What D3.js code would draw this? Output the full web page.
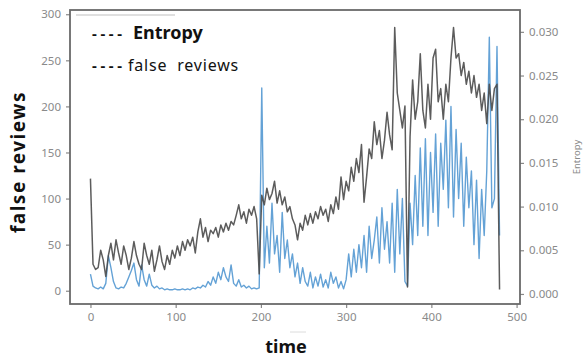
<!DOCTYPE html>
<html>
<head>
<meta charset="utf-8">
<script src="https://cdn.jsdelivr.net/npm/d3@7"></script>
<style>
  body { margin: 0; background: #fff; }
  svg { display: block; }
</style>
</head>
<body>
<div id="chart"></div>
<script>
// time axis (one reading every 3 steps)
const time = [
  0, 3, 6, 9, 12, 15, 18, 21, 24, 27,
  30, 33, 36, 39, 42, 45, 48, 51, 54, 57,
  60, 63, 66, 69, 72, 75, 78, 81, 84, 87,
  90, 93, 96, 99, 102, 105, 108, 111, 114, 117,
  120, 123, 126, 129, 132, 135, 138, 141, 144, 147,
  150, 153, 156, 159, 162, 165, 168, 171, 174, 177,
  180, 183, 186, 189, 192, 195, 198, 201, 204, 207,
  210, 213, 216, 219, 222, 225, 228, 231, 234, 237,
  240, 243, 246, 249, 252, 255, 258, 261, 264, 267,
  270, 273, 276, 279, 282, 285, 288, 291, 294, 297,
  300, 303, 306, 309, 312, 315, 318, 321, 324, 327,
  330, 333, 336, 339, 342, 345, 348, 351, 354, 357,
  360, 363, 366, 369, 372, 375, 378, 381, 384, 387,
  390, 393, 396, 399, 402, 405, 408, 411, 414, 417,
  420, 423, 426, 429, 432, 435, 438, 441, 444, 447,
  450, 453, 456, 459, 462, 465, 468, 471, 474, 477,
  480
];

// right axis
const entropy = [
  0.0132, 0.0034, 0.0028, 0.0030, 0.0050, 0.0039, 0.0020, 0.0044, 0.0058, 0.0039,
  0.0062, 0.0047, 0.0034, 0.0055, 0.0044, 0.0028, 0.0041, 0.0060, 0.0044, 0.0034,
  0.0028, 0.0058, 0.0044, 0.0034, 0.0050, 0.0026, 0.0039, 0.0055, 0.0037, 0.0028,
  0.0044, 0.0034, 0.0050, 0.0041, 0.0055, 0.0044, 0.0060, 0.0050, 0.0062, 0.0055,
  0.0065, 0.0047, 0.0071, 0.0086, 0.0065, 0.0076, 0.0060, 0.0073, 0.0069, 0.0076,
  0.0065, 0.0079, 0.0071, 0.0081, 0.0073, 0.0083, 0.0079, 0.0090, 0.0102, 0.0086,
  0.0094, 0.0081, 0.0097, 0.0090, 0.0100, 0.0086, 0.0023, 0.0113, 0.0102, 0.0121,
  0.0108, 0.0115, 0.0129, 0.0104, 0.0118, 0.0102, 0.0111, 0.0094, 0.0100, 0.0086,
  0.0079, 0.0062, 0.0081, 0.0073, 0.0090, 0.0079, 0.0092, 0.0081, 0.0094, 0.0086,
  0.0100, 0.0090, 0.0097, 0.0083, 0.0102, 0.0092, 0.0111, 0.0097, 0.0134, 0.0108,
  0.0129, 0.0118, 0.0145, 0.0129, 0.0155, 0.0139, 0.0171, 0.0105, 0.0134, 0.0166,
  0.0155, 0.0197, 0.0171, 0.0187, 0.0155, 0.0176, 0.0208, 0.0182, 0.0165, 0.0305,
  0.0230, 0.0210, 0.0190, 0.0215, 0.0008, 0.0180, 0.0245, 0.0200, 0.0220, 0.0275,
  0.0210, 0.0190, 0.0240, 0.0200, 0.0270, 0.0280, 0.0220, 0.0235, 0.0200, 0.0240,
  0.0220, 0.0270, 0.0305, 0.0270, 0.0275, 0.0250, 0.0265, 0.0240, 0.0255, 0.0230,
  0.0250, 0.0225, 0.0240, 0.0210, 0.0230, 0.0195, 0.0240, 0.0210, 0.0235, 0.0240,
  0.0005
];

// left axis
const falseReviews = [
  18, 5, 3, 2, 4, 2, 8, 38, 25, 10,
  3, 2, 4, 3, 8, 15, 22, 30, 12, 5,
  28, 12, 5, 18, 6, 3, 5, 2, 3, 1,
  2, 1, 1, 2, 1, 1, 2, 1, 2, 1,
  3, 2, 4, 3, 6, 4, 10, 6, 15, 8,
  20, 12, 25, 15, 10, 28, 8, 5, 12, 4,
  6, 3, 5, 2, 3, 2, 3, 220, 25, 70,
  30, 95, 40, 60, 20, 85, 35, 55, 25, 40,
  15, 30, 8, 25, 10, 5, 20, 3, 15, 5,
  18, 4, 12, 3, 20, 8, 15, 3, 10, 2,
  12, 40, 15, 45, 20, 50, 25, 60, 20, 70,
  35, 55, 80, 30, 90, 45, 75, 30, 95, 20,
  110, 40, 100, 10, 5, 95, 50, 125, 60, 155,
  70, 165, 60, 150, 85, 170, 70, 160, 110, 185,
  90, 200, 80, 175, 100, 160, 70, 145, 90, 130,
  50, 120, 35, 110, 60, 130, 275, 90, 100, 265,
  60
];

const xTicks = [0, 100, 200, 300, 400, 500];
const leftTicks = [0, 50, 100, 150, 200, 250, 300];
const rightTicks = [0, 0.005, 0.010, 0.015, 0.020, 0.025, 0.030];

const width = 583;
const height = 357;
const box = {left: 70, right: 520, top: 10, bottom: 304};
const font = "'Noto Sans', 'Open Sans', sans-serif";

const svg = d3.select('#chart')
  .append('svg')
    .attr('width', width)
    .attr('height', height);

const xScale = d3.scaleLinear()
  .domain([-24, 504])
  .range([box.left, box.right]);

const yLeft = d3.scaleLinear()
  .domain([-14.4, 304.6])
  .range([box.bottom, box.top]);

const yRight = d3.scaleLinear()
  .domain([-0.00115, 0.0325])
  .range([box.bottom, box.top]);

// axes
function styleAxis(g) {
  g.select('.domain').remove();
  g.selectAll('.tick line').attr('stroke', '#888').attr('stroke-width', 1.2);
  g.selectAll('.tick text')
    .attr('fill', '#8a8a8a')
    .style('font-family', font)
    .style('font-size', '11.5px');
}

svg.append('g')
  .attr('transform', `translate(0, ${box.bottom})`)
  .call(d3.axisBottom(xScale).tickValues(xTicks).tickSize(4).tickPadding(5))
  .call(styleAxis);

svg.append('g')
  .attr('transform', `translate(${box.left}, 0)`)
  .call(d3.axisLeft(yLeft).tickValues(leftTicks).tickSize(4).tickPadding(5))
  .call(styleAxis);

svg.append('g')
  .attr('transform', `translate(${box.right}, 0)`)
  .call(d3.axisRight(yRight).tickValues(rightTicks).tickFormat(d3.format('.3f')).tickSize(4).tickPadding(5))
  .call(styleAxis);

// lines
const reviewsLine = d3.line()
  .x((d, i) => xScale(time[i]))
  .y((d) => yLeft(d));

const entropyLine = d3.line()
  .x((d, i) => xScale(time[i]))
  .y((d) => yRight(d));

svg.append('path')
  .datum(falseReviews)
  .attr('fill', 'none')
  .attr('stroke', '#64a2d6')
  .attr('stroke-width', 1.4)
  .attr('stroke-linejoin', 'round')
  .attr('d', reviewsLine);

svg.append('path')
  .datum(entropy)
  .attr('fill', 'none')
  .attr('stroke', '#4a4a4a')
  .attr('stroke-opacity', 0.9)
  .attr('stroke-width', 1.5)
  .attr('stroke-linejoin', 'round')
  .attr('d', entropyLine);

// frame
svg.append('rect')
  .attr('x', box.left)
  .attr('y', box.top)
  .attr('width', box.right - box.left)
  .attr('height', box.bottom - box.top)
  .attr('fill', 'none')
  .attr('stroke', '#6a6a6a')
  .attr('stroke-width', 1.8);

// faint strokes left in the picture
svg.append('line')
  .attr('x1', 76).attr('x2', 175)
  .attr('y1', 15).attr('y2', 15)
  .attr('stroke', '#d4d4d4')
  .attr('stroke-width', 1.5);

svg.append('line')
  .attr('x1', 290).attr('x2', 306)
  .attr('y1', 332).attr('y2', 332)
  .attr('stroke', '#dcdcdc')
  .attr('stroke-width', 1);

// legend
const legend = svg.append('g')
  .style('font-family', font)
  .attr('fill', '#111');

legend.append('text')
  .attr('x', 92).attr('y', 39)
  .style('font-size', '15px')
  .style('font-weight', 'bold')
  .style('letter-spacing', '3.6px')
  .text('----');

legend.append('text')
  .attr('x', 133).attr('y', 39)
  .style('font-size', '18px')
  .style('font-weight', 'bold')
  .text('Entropy');

legend.append('text')
  .attr('x', 92).attr('y', 71)
  .style('font-size', '15px')
  .style('font-weight', 'bold')
  .style('letter-spacing', '3.6px')
  .text('----');

legend.append('text')
  .attr('x', 128).attr('y', 71)
  .style('font-size', '16px')
  .style('letter-spacing', '0.8px')
  .attr('xml:space', 'preserve')
  .text('false  reviews');

// axis titles
svg.append('text')
  .attr('transform', 'translate(25, 162) rotate(-90)')
  .attr('text-anchor', 'middle')
  .style('font-family', font)
  .style('font-size', '19px')
  .style('font-weight', 'bold')
  .style('letter-spacing', '1.5px')
  .attr('fill', '#111')
  .text('false reviews');

svg.append('text')
  .attr('x', 286)
  .attr('y', 353)
  .attr('text-anchor', 'middle')
  .style('font-family', font)
  .style('font-size', '18px')
  .style('font-weight', 'bold')
  .attr('fill', '#111')
  .text('time');

svg.append('text')
  .attr('transform', 'translate(580, 157) rotate(-90)')
  .attr('text-anchor', 'middle')
  .style('font-family', font)
  .style('font-size', '9.5px')
  .attr('fill', '#888')
  .text('Entropy');
</script>
</body>
</html>
